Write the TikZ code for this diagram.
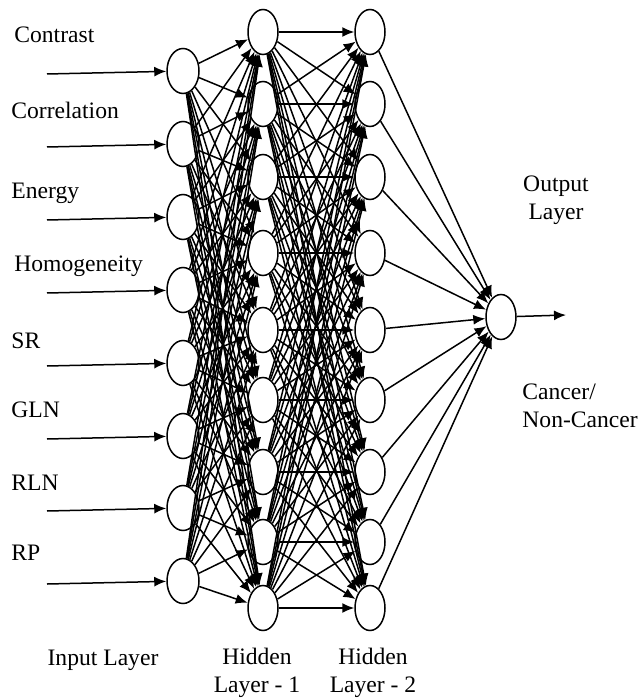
\documentclass[tikz,border=0pt]{standalone}
\usepackage{fontspec}
\setmainfont{Liberation Serif}
\usetikzlibrary{shapes.geometric,arrows.meta}

\tikzset{
  neuron/.style={ellipse, draw, line width=0.75pt, fill=white, inner sep=0pt,
    minimum width=15pt, minimum height=22.5pt},
  conn/.style={-{Latex[length=6pt,width=5pt]}, line width=0.75pt},
  lbl/.style={inner sep=0pt, font=\fontsize{11.8}{14}\selectfont}
}

\begin{document}
\begin{tikzpicture}[x=0.5pt,y=-0.5pt]
                \useasboundingbox (0,0) rectangle (639,699);

                % input layer
                \foreach \i/\y in {1/71,2/144,3/217,4/290,5/363,6/436,7/508,8/581}{
                    \node[neuron, minimum width=16pt] (In\i) at (183,\y) {};
                    \coordinate (S\i) at (47,\y+3);
                }

                % hidden layers
                \foreach \i/\y in {1/32,2/104,3/177,4/253,5/330,6/400,7/472,8/542,9/608}{
                    \node[neuron] (Ha\i) at (263,\y) {};
                    \node[neuron] (Hb\i) at (370,\y) {};
                }

                % output layer
                \node[neuron] (Out) at (501,317) {};
                \coordinate (E) at (566,315);

                \foreach \i in {1,...,8}{
                    \draw[conn] (S\i) -- (In\i);
                    \foreach \j in {1,...,9}
                        \draw[conn] (In\i) -- (Ha\j);
                }
                \foreach \i in {1,...,9}{
                    \foreach \j in {1,...,9}
                        \draw[conn] (Ha\i) -- (Hb\j);
                    \draw[conn] (Hb\i) -- (Out);
                }
                \draw[conn] (Out) -- (E);

                % labels
                \foreach \t/\x/\y in {Contrast/14/43, Correlation/11/119, Energy/11/199,
                    Homogeneity/14/272, SR/11/348, GLN/11/417, RLN/11/490, RP/11/560}
                    \node[lbl, anchor=base west] (L\t) at (\x,\y) {\t};

                \node[lbl, anchor=base] (LIn) at (103,665) {Input Layer};
                \node[lbl, align=center] (LHa) at (257,673) {Hidden\\Layer - 1};
                \node[lbl, align=center] (LHb) at (373,673) {Hidden\\Layer - 2};
                \node[lbl, align=center] (LOut) at (556,200) {Output\\Layer};
                \node[lbl, align=left, anchor=west] (LRes) at (522,406) {Cancer/\\Non-Cancer};
            \end{tikzpicture}
\end{document}
